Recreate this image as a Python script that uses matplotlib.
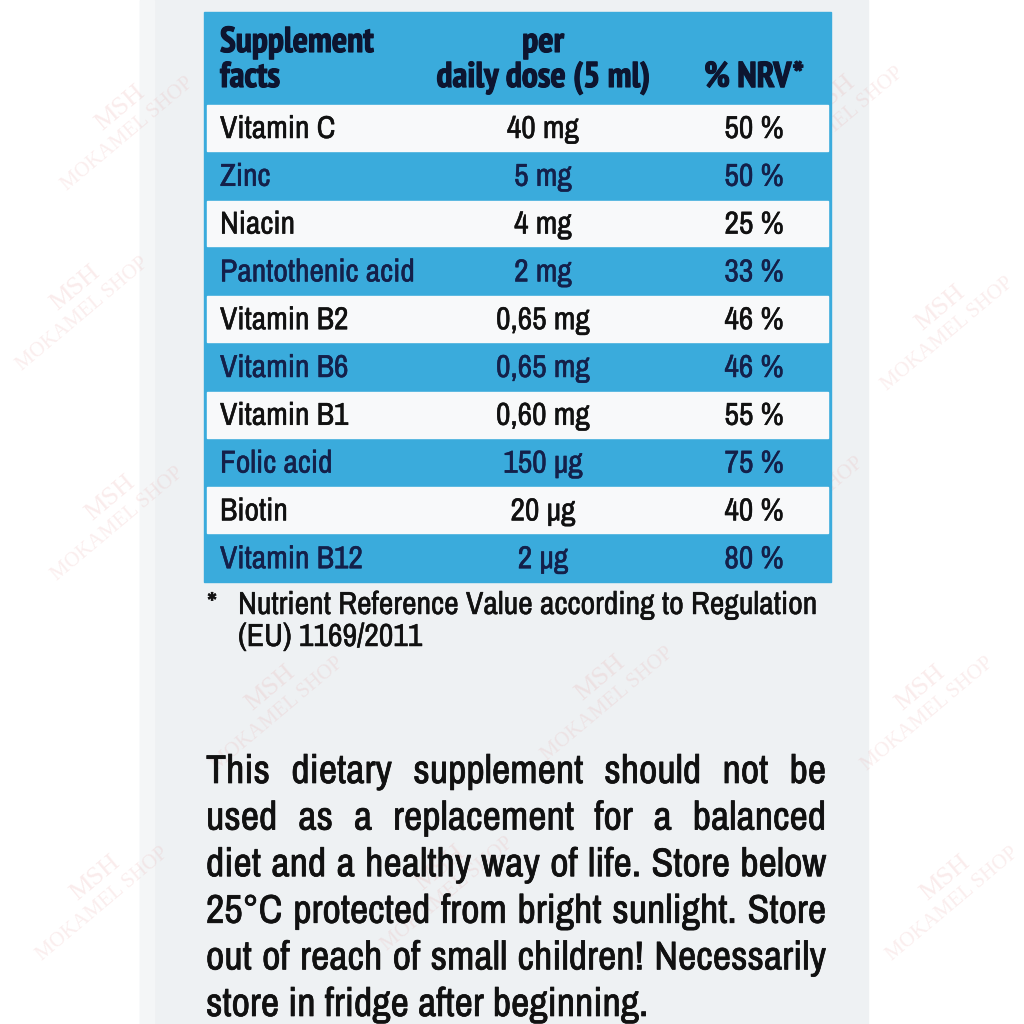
import matplotlib
matplotlib.use("Agg")
import matplotlib.pyplot as plt
import matplotlib.patheffects as pe
from matplotlib import font_manager
from matplotlib.patches import Rectangle

# table content
nutrients = ["Vitamin C", "Zinc", "Niacin", "Pantothenic acid", "Vitamin B2",
             "Vitamin B6", "Vitamin B1", "Folic acid", "Biotin", "Vitamin B12"]
doses = ["40 mg", "5 mg", "4 mg", "2 mg", "0,65 mg",
         "0,65 mg", "0,60 mg", "150 µg", "20 µg", "2 µg"]
nrv = ["50 %", "50 %", "25 %", "33 %", "46 %",
       "46 %", "55 %", "75 %", "40 %", "80 %"]
header_name = ["Supplement", "facts"]
header_dose = ["per", "daily dose (5 ml)"]
header_nrv = "% NRV*"
footnote = ["Nutrient Reference Value according to Regulation", "(EU) 1169/2011"]
paragraph = [
    "This dietary supplement should not be",
    "used as a replacement for a balanced",
    "diet and a healthy way of life. Store below",
    "25°C protected from bright sunlight. Store",
    "out of reach of small children! Necessarily",
    "store in fridge after beginning.",
]

# narrow sans like the print on the box
fonts = font_manager.fontManager.ttflist
names = {f.name for f in fonts}
bold_names = {f.name for f in fonts if f.weight in (700, "bold")}
fam = "DejaVu Sans"
for cand in ["Archivo Narrow", "PT Sans Narrow", "Pragati Narrow", "Roboto Condensed"]:
    if cand in names:
        fam = cand
        break
bold_fam = fam
for cand in [fam, "PT Sans Narrow", "Pragati Narrow", "Roboto Condensed", "Fira Sans Condensed"]:
    if cand in bold_names:
        bold_fam = cand
        break
plt.rcParams["font.family"] = [fam, "DejaVu Sans"]

BLUE = "#3aabdc"
NAVY = "#14204a"
INK = "#111111"

fig = plt.figure(figsize=(10.24, 10.24), dpi=100)
ax = fig.add_axes([0, 0, 1, 1])
ax.set_xlim(0, 1024)
ax.set_ylim(1024, 0)
ax.axis("off")
fig.patch.set_facecolor("white")
fig.canvas.draw()
rend = fig.canvas.get_renderer()


def width_of(s, size, **kw):
    t = ax.text(0, 0, s, fontsize=size, **kw)
    w = t.get_window_extent(rend).width
    t.remove()
    return w


def fit_size(s, target, **kw):
    # font size (pt) that makes string s about target pixels wide
    return 20 * target / width_of(s, 20, **kw)


bold_kw = dict(family=[bold_fam, "DejaVu Sans"], weight="bold")
row_fs = fit_size("Pantothenic acid", 195)
head_fs = fit_size("daily dose (5 ml)", 214, **bold_kw)
foot_fs = fit_size(footnote[0], 579)
para_fs = fit_size(paragraph[-1], 442)


def ink(col, lw=0.35):
    # thicken the thin glyphs a little, like the printed label
    return [pe.withStroke(linewidth=lw, foreground=col)]


# label panel
ax.add_patch(Rectangle((140, 0), 728, 1024, color="#eef1f3", zorder=0))
ax.add_patch(Rectangle((140, 0), 14, 1024, color="#f4f6f7", zorder=0))

# faint watermarks
marks = [(120, 120), (470, 90), (830, 110), (75, 300), (640, 300), (940, 320),
         (110, 510), (450, 500), (790, 500), (270, 700), (600, 690), (920, 700),
         (95, 890), (440, 880), (945, 890)]
for mx, my in marks:
    ax.text(mx, my - 12, "MSH", fontsize=19, color="#e8a0a0", alpha=0.2,
            rotation=40, ha="center", va="center", family="Liberation Serif", zorder=1)
    ax.text(mx + 8, my + 14, "MOKAMEL SHOP", fontsize=15, color="#e8a0a0", alpha=0.18,
            rotation=40, ha="center", va="center", family="Liberation Serif", zorder=1)

# table
left, right = 204, 831
top, head_bot, bottom = 12, 104, 582
row_h = (bottom - head_bot) / len(nutrients)
ax.add_patch(Rectangle((left, top), right - left, bottom - top, color=BLUE, zorder=2))

name_x, dose_x, nrv_x = 220, 543, 754
for i, (n, d, v) in enumerate(zip(nutrients, doses, nrv)):
    y0 = head_bot + i * row_h
    white = i % 2 == 0
    if white:
        ax.add_patch(Rectangle((left + 3, y0 + 1), right - left - 6, row_h - 2,
                               color="#f8f9fa", zorder=3))
    col = INK if white else NAVY
    base = y0 + 34
    for x, s, ha in [(name_x, n, "left"), (dose_x, d, "center"), (nrv_x, v, "center")]:
        ax.text(x, base, s, fontsize=row_fs, color=col, ha=ha, va="baseline", zorder=4,
                path_effects=ink(col))

HEAD = "#0d1530"
for j, (a, b) in enumerate(zip(header_name, header_dose)):
    yb = 52 + j * 35
    ax.text(name_x, yb, a, fontsize=head_fs, color=HEAD, ha="left", va="baseline",
            zorder=4, path_effects=ink(HEAD, 0.8), **bold_kw)
    ax.text(dose_x, yb, b, fontsize=head_fs, color=HEAD, ha="center", va="baseline",
            zorder=4, path_effects=ink(HEAD, 0.8), **bold_kw)
ax.text(nrv_x, 87, header_nrv, fontsize=head_fs, color=HEAD, ha="center", va="baseline",
        zorder=4, path_effects=ink(HEAD, 0.8), **bold_kw)

# footnote
ax.text(207, 614, "*", fontsize=foot_fs, color=INK, ha="left", va="baseline", zorder=4,
        path_effects=ink(INK))
for j, s in enumerate(footnote):
    ax.text(238, 614 + j * 32, s, fontsize=foot_fs, color=INK, ha="left", va="baseline",
            zorder=4, path_effects=ink(INK))

# justified paragraph
p_left, p_right = 206, 826
space = width_of("a b", para_fs) - width_of("ab", para_fs)
for j, line in enumerate(paragraph):
    yb = 783 + j * 46.6
    words = line.split()
    objs = [ax.text(0, yb, w, fontsize=para_fs, color=INK, ha="left", va="baseline",
                    zorder=4, path_effects=ink(INK, 0.5))
            for w in words]
    widths = [o.get_window_extent(rend).width for o in objs]
    if j == len(paragraph) - 1 or len(words) == 1:
        gap = space
    else:
        gap = (p_right - p_left - sum(widths)) / (len(words) - 1)
    x = p_left
    for o, w in zip(objs, widths):
        o.set_x(x)
        x += w + gap

fig.savefig("out.png", dpi=100)
